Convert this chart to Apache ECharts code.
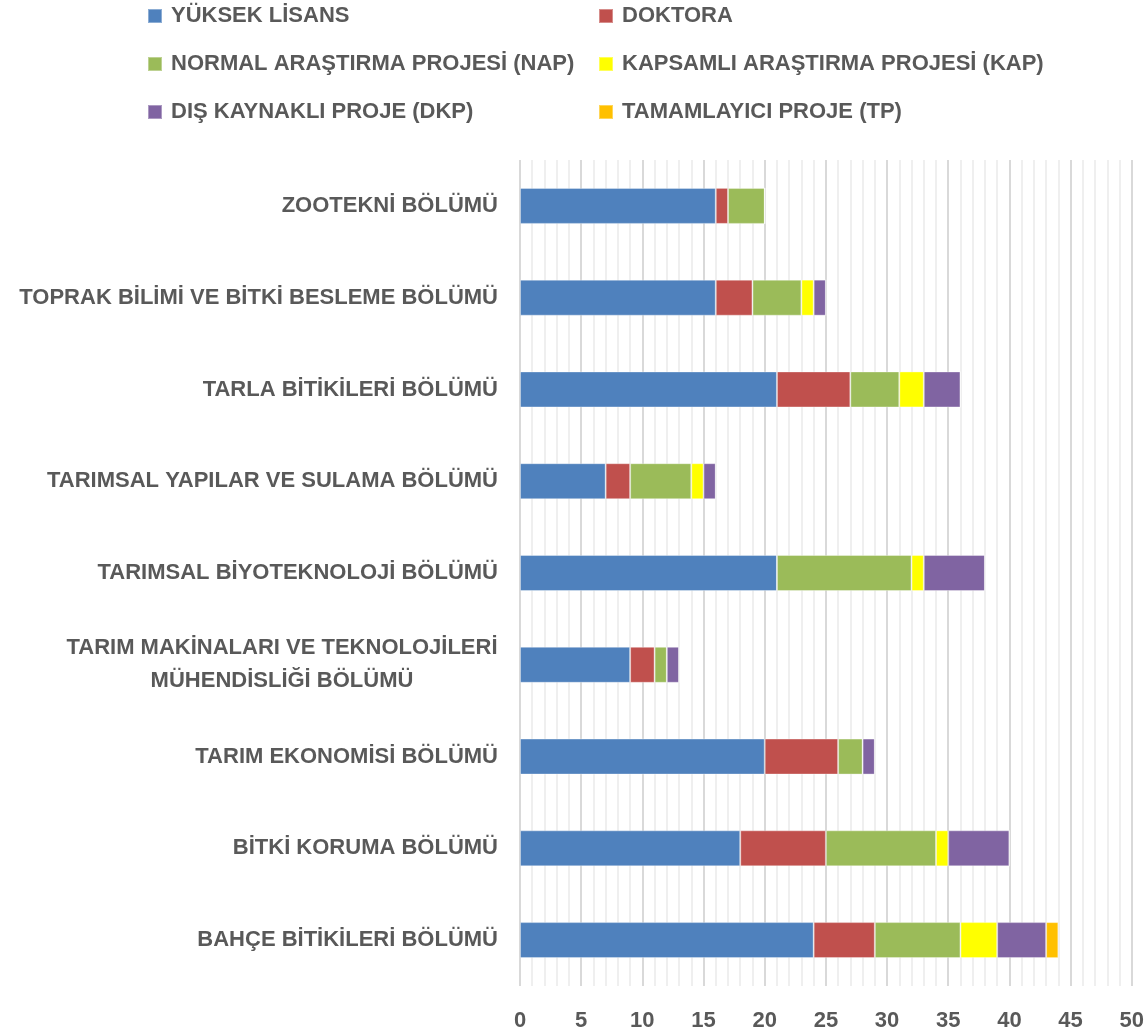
<!DOCTYPE html>
<html>
<head>
<meta charset="utf-8">
<script src="https://cdn.jsdelivr.net/npm/echarts@6/dist/echarts.min.js"></script>
<style>
html,body{margin:0;padding:0;background:#fff;}
#chart{width:1147px;height:1034px;}
</style>
</head>
<body>
<div id="chart"></div>
<script>
// Departments, listed bottom to top as drawn on the category axis
const departments = [
  'BAHÇE BİTİKİLERİ BÖLÜMÜ',
  'BİTKİ KORUMA BÖLÜMÜ',
  'TARIM EKONOMİSİ BÖLÜMÜ',
  'TARIM MAKİNALARI VE TEKNOLOJİLERİ\nMÜHENDİSLİĞİ BÖLÜMÜ',
  'TARIMSAL BİYOTEKNOLOJİ BÖLÜMÜ',
  'TARIMSAL YAPILAR VE SULAMA BÖLÜMÜ',
  'TARLA BİTİKİLERİ BÖLÜMÜ',
  'TOPRAK BİLİMİ VE BİTKİ BESLEME BÖLÜMÜ',
  'ZOOTEKNİ BÖLÜMÜ'
];

const yuksekLisans = [24, 18, 20, 9, 21, 7, 21, 16, 16];
const doktora      = [5, 7, 6, 2, 0, 2, 6, 3, 1];
const nap          = [7, 9, 2, 1, 11, 5, 4, 4, 3];
const kap          = [3, 1, 0, 0, 1, 1, 2, 1, 0];
const dkp          = [4, 5, 1, 1, 5, 1, 3, 1, 0];
const tp           = [1, 0, 0, 0, 0, 0, 0, 0, 0];

const xTicks = [0, 5, 10, 15, 20, 25, 30, 35, 40, 45, 50];

const seriesNames = [
  'YÜKSEK LİSANS', 'DOKTORA',
  'NORMAL ARAŞTIRMA PROJESİ (NAP)', 'KAPSAMLI ARAŞTIRMA PROJESİ (KAP)',
  'DIŞ KAYNAKLI PROJE (DKP)', 'TAMAMLAYICI PROJE (TP)'
];
const seriesData = [yuksekLisans, doktora, nap, kap, dkp, tp];
const colors = ['#4F81BD', '#C0504D', '#9BBB59', '#FFFF00', '#8064A2', '#FFC000'];

const FONT = '"Liberation Sans", Arial, sans-serif';
const TEXT = '#595959';
const LABEL_SIZE = 22;

// width of a string in the label font, used to centre two-line labels
const ctx = document.createElement('canvas').getContext('2d');
ctx.font = 'bold ' + LABEL_SIZE + 'px ' + FONT;
function textW(s) { return Math.ceil(ctx.measureText(s).width); }

const chart = echarts.init(document.getElementById('chart'), null, {renderer: 'canvas'});

const legendColumn = (names, left) => ({
  orient: 'vertical',
  left: left,
  top: 0,
  itemWidth: 14,
  itemHeight: 14,
  itemGap: 26,
  icon: 'rect',
  selectedMode: false,
  data: names,
  textStyle: {color: TEXT, fontFamily: FONT, fontWeight: 'bold', fontSize: LABEL_SIZE, padding: [0, 0, 0, 4]}
});

// widest line among the wrapped labels; each line is centred in that width
const wrapW = Math.max.apply(null, departments.filter(d => d.indexOf('\n') >= 0)
  .map(d => Math.max.apply(null, d.split('\n').map(textW))));

chart.setOption({
  animation: false,
  color: colors,
  legend: [
    legendColumn([seriesNames[0], seriesNames[2], seriesNames[4]], 142),
    legendColumn([seriesNames[1], seriesNames[3], seriesNames[5]], 593)
  ],
  grid: {left: 520, right: 14, top: 160, bottom: 48, containLabel: false},
  xAxis: {
    type: 'value',
    min: xTicks[0],
    max: xTicks[xTicks.length - 1],
    interval: 5,
    axisLine: {show: false},
    axisTick: {show: false},
    axisLabel: {color: TEXT, fontFamily: FONT, fontWeight: 'bold', fontSize: LABEL_SIZE, margin: 24},
    splitLine: {show: true, lineStyle: {color: '#D9D9D9', width: 2}},
    minorTick: {show: false, splitNumber: 5},
    minorSplitLine: {show: true, lineStyle: {color: '#EFEFEF', width: 2}}
  },
  yAxis: {
    type: 'category',
    data: departments,
    axisLine: {show: false},
    axisTick: {show: false},
    axisLabel: {
      color: TEXT, fontFamily: FONT, fontWeight: 'bold', fontSize: LABEL_SIZE, margin: 22,
      lineHeight: 33,
      formatter: function (v) {
        if (v.indexOf('\n') < 0) return v;
        return v.split('\n').map(p => '{c|' + p + '}').join('\n');
      },
      rich: {
        c: {color: TEXT, fontFamily: FONT, fontWeight: 'bold', fontSize: LABEL_SIZE, lineHeight: 33,
            align: 'center', width: wrapW}
      }
    }
  },
  series: seriesNames.map((name, i) => ({
    name: name,
    type: 'bar',
    stack: 'total',
    barWidth: 36,
    data: seriesData[i],
    itemStyle: {color: colors[i], borderColor: 'rgba(255,255,255,0.35)', borderWidth: 1}
  }))
});
</script>
</body>
</html>
